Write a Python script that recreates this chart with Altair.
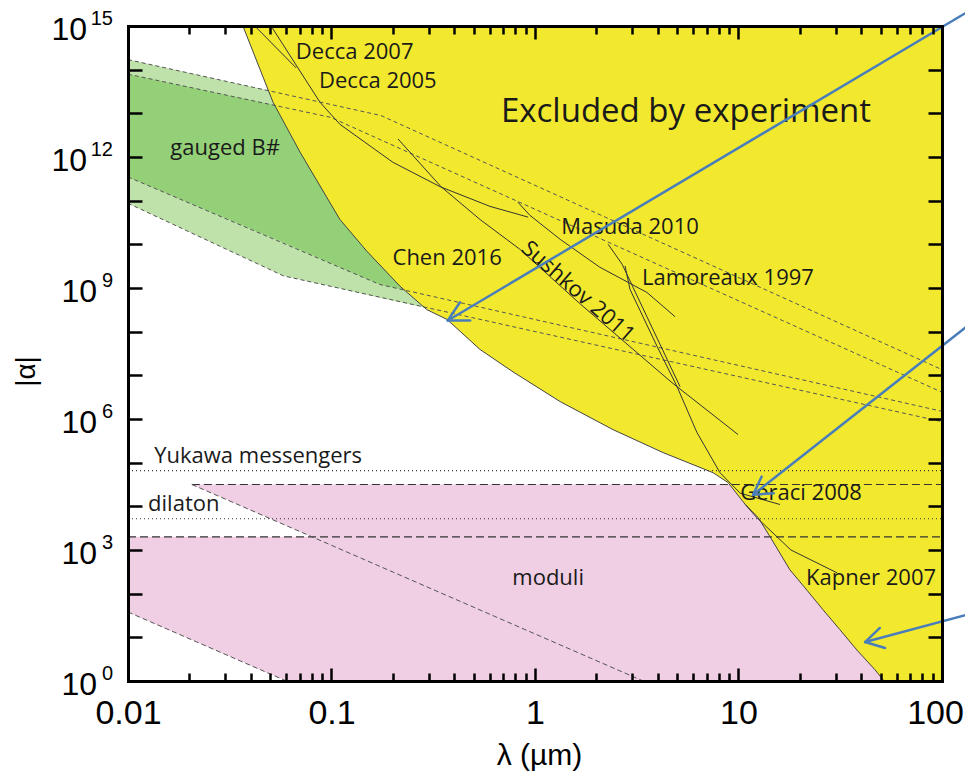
import altair as alt
import pandas as pd

# ---------------- axis tick values ----------------
x_major = [0.01, 0.1, 1, 10, 100]
x_minor = [round(m * d, 4) for d in (0.01, 0.1, 1, 10) for m in range(2, 10)]
y_decades = [10.0 ** k for k in range(16)]
y_label_values = [1e0, 1e3, 1e6, 1e9, 1e12, 1e15]
y_label_exps = ["0", "3", "6", "9", "12", "15"]

# ---------------- excluded-by-experiment boundary ----------------
bound_lam = [0.0367, 0.0446, 0.0516, 0.070, 0.110, 0.149, 0.217, 0.294, 0.370,
             0.537, 0.780, 1.33, 2.42, 4.26, 7.50, 8.88, 10.8, 12.5, 14.3, 17.9,
             21.7, 26.0, 31.5, 38.2, 46.9, 51.9]
bound_alpha = [1e15, 1.0e14, 1.8e13, 1.3e12, 3.7e10, 7.0e9, 1.1e9, 3.2e8, 1.9e8,
               3.9e7, 1.2e7, 2.5e6, 5.7e5, 1.7e5, 5.9e4, 3.5e4, 1.1e4, 5.5e3, 2.0e3, 3.5e2,
               1.2e2, 43, 15, 5.1, 1.8, 1.0]
excl_right_lam = 100
excl_bottom_alpha = 1.0
excl_top_alpha = 1e15

# ---------------- gauged B# band ----------------
green_lam = [0.01, 0.058, 0.099, 0.173, 0.30]
green_light_top = [1.7e14, 2.8e13, 1.6e13, 8.9e12, 2.9e12]
green_light_bot = [8.7e10, 1.9e9, 1.1e9, 6.0e8, 3.4e8]
green_dark_top = [7.9e13, 1.4e13, 8.1e12, 2.5e12, 7.9e11]
green_dark_bot = [3.5e11, 1.1e10, 3.7e9, 1.2e9, 6.8e8]

band_id = ["g1"] * 3 + ["g2"] * 3 + ["g3"] * 3 + ["g4"] * 3
band_lam = [0.01, 0.175, 100, 0.01, 0.099, 100, 0.01, 0.173, 100, 0.01, 0.058, 100]
band_alpha = [1.7e14, 8.9e12, 1.35e7, 7.9e13, 8.1e12, 4.1e6,
              3.5e11, 1.2e9, 1.5e6, 8.7e10, 1.9e9, 8.7e5]

# ---------------- moduli / dilaton / Yukawa ----------------
moduli_hi_lam = [0.0206, 3.4, 100]
moduli_hi_low = [3.16e4, 1, 1]
moduli_hi_top = 3.16e4
moduli_lo_lam = [0.01, 0.060, 100]
moduli_lo_low = [38, 1, 1]
moduli_lo_top = 2.0e3

dotted_id = ["yukawa", "yukawa", "dilaton", "dilaton"]
dotted_lam = [0.01, 100, 0.01, 100]
dotted_alpha = [6.6e4, 6.6e4, 5.2e3, 5.2e3]

hdash_id = ["mod_top", "mod_top", "mod_low", "mod_low"]
hdash_lam = [0.0206, 100, 0.01, 100]
hdash_alpha = [3.16e4, 3.16e4, 2.0e3, 2.0e3]

diag_id = ["diag_hi", "diag_hi", "diag_lo", "diag_lo"]
diag_lam = [0.0206, 3.4, 0.01, 0.060]
diag_alpha = [3.16e4, 1, 38, 1]

# ---------------- experimental curves ----------------
decca2007_lam = [0.042, 0.067]
decca2007_alpha = [1.0e15, 1.1e14]
decca2005_lam = [0.0505, 0.0877, 0.110, 0.200, 0.341, 0.601, 0.925]
decca2005_alpha = [1.0e15, 1.8e13, 5.6e12, 7.6e11, 2.1e11, 7.4e10, 4.2e10]
sushkov_lam = [0.212, 0.345, 0.537, 0.843, 1.66, 4.71, 9.95]
sushkov_alpha = [2.6e12, 2.1e11, 3.7e10, 7.7e9, 4.4e8, 6.8e6, 4.4e5]
masuda_lam = [0.824, 0.945, 1.33, 2.08, 3.55, 4.88]
masuda_alpha = [9.2e10, 4.6e10, 1.3e10, 3.0e9, 7.9e8, 2.2e8]
lamoreaux_lam = [2.29, 2.68, 5.16]
lamoreaux_alpha = [1.0e10, 3.5e9, 5.5e6]
geraci_lam = [2.77, 2.93, 3.98, 4.99, 6.25, 8.11, 10.2, 16.0]
geraci_alpha = [3.2e9, 9.3e8, 4.6e7, 5.5e6, 4.9e5, 5.9e4, 2.0e4, 1.1e4]
kapner_lam = [10.8, 12.3, 18.1, 30.5]
kapner_alpha = [1.1e4, 5.5e3, 1.0e3, 3.0e2]

# ---------------- annotations ----------------
label_text = ["Decca 2007", "Decca 2005", "gauged B#", "Chen 2016", "Masuda 2010",
              "Lamoreaux 1997", "Yukawa messengers", "dilaton", "moduli",
              "Geraci 2008", "Kapner 2007"]
label_lam = [0.130, 0.169, 0.030, 0.370, 2.93, 8.87, 0.0436, 0.0188, 1.16, 20.3, 44.8]
label_alpha = [2.5e14, 5.5e13, 1.6e12, 4.8e9, 2.5e10, 1.66e9, 1.45e5, 1.15e4, 2.3e2, 2.05e4, 2.3e2]
sushkov_label = ["Sushkov 2011"]
sushkov_label_lam = [1.63]
sushkov_label_alpha = [8.3e8]
big_label = ["Excluded by experiment"]
big_label_lam = [5.52]
big_label_alpha = [1.07e13]

arrow_tail_lam = [142, 142, 142]
arrow_tail_alpha = [2.5e15, 1.7e8, 36]
arrow_tip_lam = [0.373, 11.8, 41.9]
arrow_tip_alpha = [1.8e8, 1.85e4, 7.8]
arrow_arm1_lam = [0.428, 13.0, 49.5]
arrow_arm1_alpha = [4.7e8, 4.8e4, 16.4]
arrow_arm2_lam = [0.480, 14.9, 52.5]
arrow_arm2_alpha = [1.8e8, 2.0e4, 5.7]

# ---------------- styles ----------------
YELLOW = "#F2E92E"
GREEN_LIGHT = "#BEE2AA"
GREEN_DARK = "#94D078"
PINK = "#F0CEE4"
BLUE = "#4A7EBB"
INK = "#1a1a1a"

XS = alt.Scale(type="log", domain=[0.01, 100], nice=False)
YS = alt.Scale(type="log", domain=[1, 1e15], nice=False)


def X(field="lam", axis=None):
    return alt.X(f"{field}:Q", scale=XS, axis=axis)


def Y(field="alpha", axis=None):
    return alt.Y(f"{field}:Q", scale=YS, axis=axis)


tick_common = dict(labels=False, domain=False, grid=False, title=None,
                   tickColor="black", tickWidth=2.5, zindex=2)
frame_common = dict(ticks=False, labels=False, domain=True, domainColor="black",
                    domainWidth=3, domainCap="square", grid=False, zindex=2)

ax_b_lab = alt.Axis(orient="bottom", values=x_major, format="~g",
                    labelFont="Liberation Sans", labelFontSize=34, labelColor="black",
                    labelPadding=15, labelFlush=False, labelOverlap=False,
                    labelOffset={"condition": {"test": "datum.value >= 100", "value": -7},
                                 "value": 0},
                    ticks=False, tickSize=0, domain=True, domainColor="black",
                    domainWidth=3, domainCap="square", grid=False,
                    title="λ (µm)", titleFont="Liberation Sans", titleFontSize=30,
                    titleFontWeight="normal", titleColor="black", titleX=411, titleY=74,
                    titleAlign="center", titleBaseline="middle", zindex=2)
ax_b_maj = alt.Axis(orient="bottom", values=x_major, tickSize=13, offset=-13, **tick_common)
ax_b_min = alt.Axis(orient="bottom", values=x_minor, tickSize=8, offset=-8, **tick_common)
ax_t_maj = alt.Axis(orient="top", values=x_major, tickSize=13, offset=-13, **tick_common)
ax_t_min = alt.Axis(orient="top", values=x_minor, tickSize=8, offset=-8, **tick_common)
ax_t_dom = alt.Axis(orient="top", title=None, **frame_common)
ax_l_title = alt.Axis(orient="left", title="|α|", titleFont="Liberation Sans",
                      titleFontSize=28, titleFontWeight="normal", titleColor="black",
                      titleX=-102, titleY=345, titleAngle=270, titleAlign="center",
                      titleBaseline="middle", **frame_common)
ax_l_tick = alt.Axis(orient="left", values=y_decades, tickSize=14, offset=-14, **tick_common)
ax_r_tick = alt.Axis(orient="right", values=y_decades, tickSize=14, offset=-14, **tick_common)
ax_r_dom = alt.Axis(orient="right", title=None, **frame_common)

# ---------------- data frames ----------------
df_pink_hi = pd.DataFrame({"lam": moduli_hi_lam, "alpha": moduli_hi_low,
                           "top": [moduli_hi_top] * len(moduli_hi_lam)})
df_pink_lo = pd.DataFrame({"lam": moduli_lo_lam, "alpha": moduli_lo_low,
                           "top": [moduli_lo_top] * len(moduli_lo_lam)})
df_green_light = pd.DataFrame({"lam": green_lam, "alpha": green_light_bot, "top": green_light_top})
df_green_dark = pd.DataFrame({"lam": green_lam, "alpha": green_dark_bot, "top": green_dark_top})
df_yellow = pd.DataFrame({"lam": bound_lam + [excl_right_lam],
                          "alpha": bound_alpha + [excl_bottom_alpha],
                          "top": [excl_top_alpha] * (len(bound_lam) + 1)})
df_bound = pd.DataFrame({"lam": bound_lam, "alpha": bound_alpha})
df_band = pd.DataFrame({"id": band_id, "lam": band_lam, "alpha": band_alpha})
df_dotted = pd.DataFrame({"id": dotted_id, "lam": dotted_lam, "alpha": dotted_alpha})
df_hdash = pd.DataFrame({"id": hdash_id, "lam": hdash_lam, "alpha": hdash_alpha})
df_diag = pd.DataFrame({"id": diag_id, "lam": diag_lam, "alpha": diag_alpha})

exp_series = {
    "Decca 2007": (decca2007_lam, decca2007_alpha),
    "Decca 2005": (decca2005_lam, decca2005_alpha),
    "Sushkov 2011": (sushkov_lam, sushkov_alpha),
    "Masuda 2010": (masuda_lam, masuda_alpha),
    "Lamoreaux 1997": (lamoreaux_lam, lamoreaux_alpha),
    "Geraci 2008": (geraci_lam, geraci_alpha),
    "Kapner 2007": (kapner_lam, kapner_alpha),
}
rows = []
for name, (ls, als) in exp_series.items():
    for l, a in zip(ls, als):
        rows.append({"id": name, "lam": l, "alpha": a})
df_exp = pd.DataFrame(rows)

df_labels = pd.DataFrame({"text": label_text, "lam": label_lam, "alpha": label_alpha})
df_sushkov = pd.DataFrame({"text": sushkov_label, "lam": sushkov_label_lam, "alpha": sushkov_label_alpha})
df_big = pd.DataFrame({"text": big_label, "lam": big_label_lam, "alpha": big_label_alpha})

seg = []
for i in range(len(arrow_tip_lam)):
    tip = (arrow_tip_lam[i], arrow_tip_alpha[i])
    for other in [(arrow_tail_lam[i], arrow_tail_alpha[i]),
                  (arrow_arm1_lam[i], arrow_arm1_alpha[i]),
                  (arrow_arm2_lam[i], arrow_arm2_alpha[i])]:
        seg.append({"lam": tip[0], "alpha": tip[1], "lam2": other[0], "alpha2": other[1]})
df_arrows = pd.DataFrame(seg)

df_ylab = pd.DataFrame({"lam": [x_major[0]] * len(y_label_values),
                        "alpha": y_label_values, "exp": y_label_exps})
df_ylab["ndig"] = df_ylab["exp"].str.len()

# ---------------- layers ----------------
layers = []
layers.append(alt.Chart(df_pink_hi).mark_area(color=PINK, opacity=1, clip=True).encode(
    x=X(axis=ax_b_lab), y=Y(axis=ax_l_title), y2="top:Q"))
layers.append(alt.Chart(df_pink_lo).mark_area(color=PINK, opacity=1, clip=True).encode(
    x=X(axis=ax_b_maj), y=Y(axis=ax_l_tick), y2="top:Q"))
layers.append(alt.Chart(df_green_light).mark_area(color=GREEN_LIGHT, opacity=1, clip=True).encode(
    x=X(axis=ax_b_min), y=Y(axis=ax_r_tick), y2="top:Q"))
layers.append(alt.Chart(df_green_dark).mark_area(color=GREEN_DARK, opacity=1, clip=True).encode(
    x=X(axis=ax_t_maj), y=Y(axis=ax_r_dom), y2="top:Q"))
layers.append(alt.Chart(df_yellow).mark_area(color=YELLOW, opacity=1, clip=True).encode(
    x=X(axis=ax_t_min), y=Y(), y2="top:Q"))
layers.append(alt.Chart(df_band).mark_line(color="#555555", strokeWidth=1, strokeDash=[4, 3], clip=True).encode(
    x=X(axis=ax_t_dom), y=Y(), detail="id:N"))
layers.append(alt.Chart(df_dotted).mark_line(color="#333333", strokeWidth=1.2, strokeDash=[1, 3], clip=True).encode(
    x=X(), y=Y(), detail="id:N"))
layers.append(alt.Chart(df_hdash).mark_line(color="#333333", strokeWidth=1.2, strokeDash=[8, 4], clip=True).encode(
    x=X(), y=Y(), detail="id:N"))
layers.append(alt.Chart(df_diag).mark_line(color="#555555", strokeWidth=1, strokeDash=[5, 3], clip=True).encode(
    x=X(), y=Y(), detail="id:N"))
layers.append(alt.Chart(df_bound).mark_line(color="#444444", strokeWidth=1, clip=True).encode(
    x=X(), y=Y()))
layers.append(alt.Chart(df_exp).mark_line(color="#333333", strokeWidth=1, clip=True).encode(
    x=X(), y=Y(), detail="id:N"))
layers.append(alt.Chart(df_labels).mark_text(font="Open Sans", fontSize=22, color=INK,
                                             align="center", baseline="middle").encode(
    x=X(), y=Y(), text="text:N"))
layers.append(alt.Chart(df_sushkov).mark_text(font="Open Sans", fontSize=22, color=INK,
                                              align="center", baseline="middle", angle=41).encode(
    x=X(), y=Y(), text="text:N"))
layers.append(alt.Chart(df_big).mark_text(font="Open Sans", fontSize=33, color=INK,
                                          align="center", baseline="middle").encode(
    x=X(), y=Y(), text="text:N"))
layers.append(alt.Chart(df_arrows).mark_rule(color=BLUE, strokeWidth=2.5, strokeCap="round").encode(
    x=X(), y=Y(), x2="lam2:Q", y2="alpha2:Q"))
# y tick labels: "10" with superscript exponent
layers.append(alt.Chart(df_ylab).transform_filter("datum.ndig == 1").mark_text(
    text="10", font="Liberation Sans", fontSize=32, color="black", align="right",
    baseline="alphabetic", dx=-31, dy=14).encode(x=X(), y=Y()))
layers.append(alt.Chart(df_ylab).transform_filter("datum.ndig == 2").mark_text(
    text="10", font="Liberation Sans", fontSize=32, color="black", align="right",
    baseline="alphabetic", dx=-41, dy=14).encode(x=X(), y=Y()))
layers.append(alt.Chart(df_ylab).mark_text(
    font="Liberation Sans", fontSize=20, color="black", align="right",
    baseline="alphabetic", dx=-15, dy=-1).encode(x=X(), y=Y(), text="exp:N"))

chart = alt.layer(*layers).resolve_axis(x="independent", y="independent").properties(
    width=814, height=655,
    padding={"left": 120, "top": 18, "right": 23, "bottom": 90},
    autosize=alt.AutoSizeParams(type="none"),
    background="white",
).configure_view(strokeWidth=0)

chart.save("out.html", embed_options={"renderer": "svg", "actions": False})
